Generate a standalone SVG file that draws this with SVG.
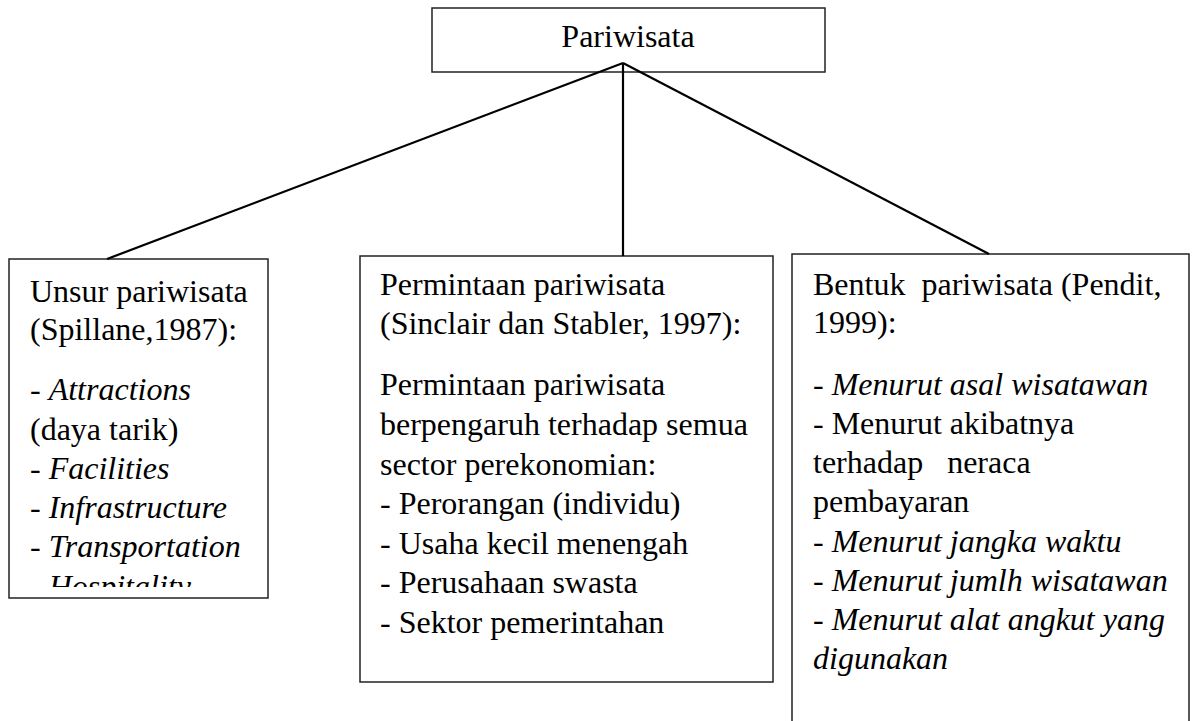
<svg xmlns="http://www.w3.org/2000/svg" width="1192" height="721" viewBox="0 0 1192 721">
<style>
.box{fill:#fff;stroke:#222;stroke-width:1.5}
text{font-family:'Liberation Serif','DejaVu Serif',serif;font-size:32px;fill:#000;white-space:pre}
.i{font-style:italic}
.c{stroke:#000;stroke-width:2.2;fill:none}
</style>
<defs>
<clipPath id="clipL"><rect x="9" y="259" width="259" height="328"/></clipPath>
</defs>
<g id="node-pariwisata">
<rect class="box" x="432" y="8" width="393" height="64"/>
</g>
<g id="node-unsur">
<rect class="box" x="9" y="259" width="259" height="339"/>
<g clip-path="url(#clipL)" font-family="Liberation Serif, serif">
<text x="30" y="302">Unsur pariwisata</text>
<text x="30" y="340">(Spillane,1987):</text>
<text x="30" y="400">- <tspan class="i">Attractions</tspan></text>
<text x="30" y="440">(daya tarik)</text>
<text x="30" y="479">- <tspan class="i">Facilities</tspan></text>
<text x="30" y="518">- <tspan class="i">Infrastructure</tspan></text>
<text x="30" y="557">- <tspan class="i">Transportation</tspan></text>
<text x="30" y="597">- <tspan class="i">Hospitality</tspan></text>
</g>
</g>
<g id="node-permintaan">
<rect class="box" x="360" y="256" width="413" height="426"/>
<text x="380" y="295">Permintaan pariwisata</text>
<text x="380" y="334">(Sinclair dan Stabler, 1997):</text>
<text x="380" y="395">Permintaan pariwisata</text>
<text x="380" y="435">berpengaruh terhadap semua</text>
<text x="380" y="475">sector perekonomian:</text>
<text x="380" y="514">- Perorangan (individu)</text>
<text x="380" y="554">- Usaha kecil menengah</text>
<text x="380" y="593">- Perusahaan swasta</text>
<text x="380" y="633">- Sektor pemerintahan</text>
</g>
<g id="node-bentuk">
<path class="box" d="M792,722 V254 H1189 V722"/>
<text x="813" y="295">Bentuk  pariwisata (Pendit,</text>
<text x="813" y="333">1999):</text>
<text x="813" y="395">- <tspan class="i">Menurut asal wisatawan</tspan></text>
<text x="813" y="434">- Menurut akibatnya</text>
<text x="813" y="473">terhadap   neraca</text>
<text x="813" y="512">pembayaran</text>
<text x="813" y="552">- <tspan class="i">Menurut jangka waktu</tspan></text>
<text x="813" y="591">- <tspan class="i">Menurut jumlh wisatawan</tspan></text>
<text class="i" x="813" y="630">- Menurut alat angkut yang</text>
<text class="i" x="813" y="669">digunakan</text>
</g>
<g id="connectors">
<line class="c" x1="623" y1="63" x2="107" y2="259"/>
<line class="c" x1="623" y1="63" x2="623" y2="256"/>
<line class="c" x1="623" y1="63" x2="989" y2="254"/>
</g>
<g id="label-pariwisata">
<text x="628" y="47" text-anchor="middle">Pariwisata</text>
</g>
</svg>
